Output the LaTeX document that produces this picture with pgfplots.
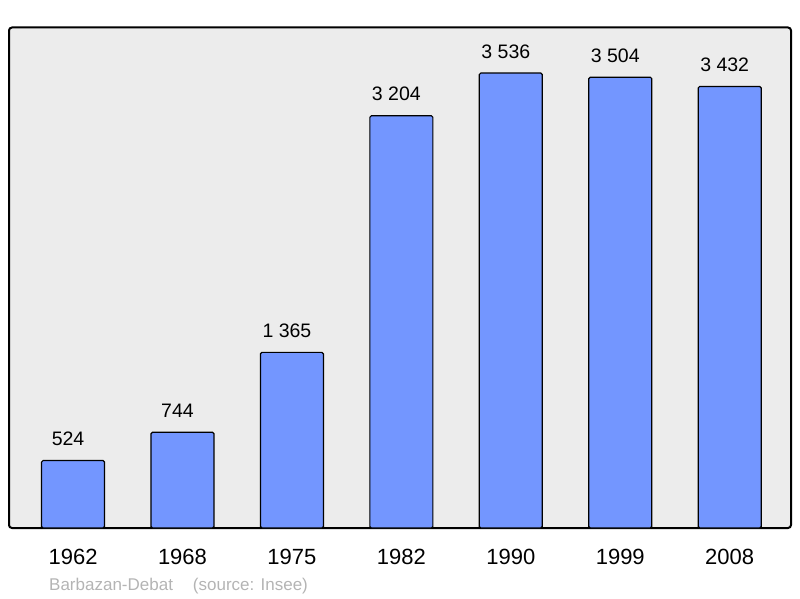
\documentclass[border=0pt]{standalone}
\usepackage{fontspec}
\setmainfont{Liberation Sans}
\usepackage{pgfplots}
\pgfplotsset{compat=1.18}
\definecolor{bgcol}{RGB}{236,236,236}
\definecolor{barcol}{RGB}{115,150,255}
\definecolor{srccol}{RGB}{180,180,180}
\begin{document}
\begin{tikzpicture}
\useasboundingbox (-9pt,-70pt) rectangle (791pt,528pt);
\begin{axis}[
  at={(0pt,0pt)}, anchor=south west,
  scale only axis, width=782pt, height=500.5pt,
  ybar, bar width=63pt,
  xmin=-0.585, xmax=6.56, ymin=0, ymax=3890,
  xtick=data, xticklabels={1962,1968,1975,1982,1990,1999,2008},
  ytick=\empty, major tick length=0pt,
  xticklabel style={anchor=base, yshift=-36.5pt, inner sep=0pt, font=\fontsize{22}{24}\selectfont},
  axis background/.style={fill=bgcol, rounded corners=3pt},
  axis line style={line width=2pt, rounded corners=3pt},
  clip=false,
  nodes near coords,
  every node near coord/.append style={anchor=south, inner sep=0pt, yshift=14pt, xshift=-5pt, font=\fontsize{19.5}{22}\selectfont, black},
  /pgf/number format/.cd, assume math mode=true, 1000 sep={\ },
]
\addplot[fill=barcol, draw=black, line width=1.2pt, rounded corners=1.5pt] coordinates {
(0,524) (1,744) (2,1365) (3,3204) (4,3536) (5,3504) (6,3432)};
\end{axis}
\node[anchor=base west, inner sep=0pt, text=srccol, font=\fontsize{17}{19}\selectfont] at (40pt,-62pt) {Barbazan-Debat\hspace{20pt}(source: Insee)};
\end{tikzpicture}
\end{document}
